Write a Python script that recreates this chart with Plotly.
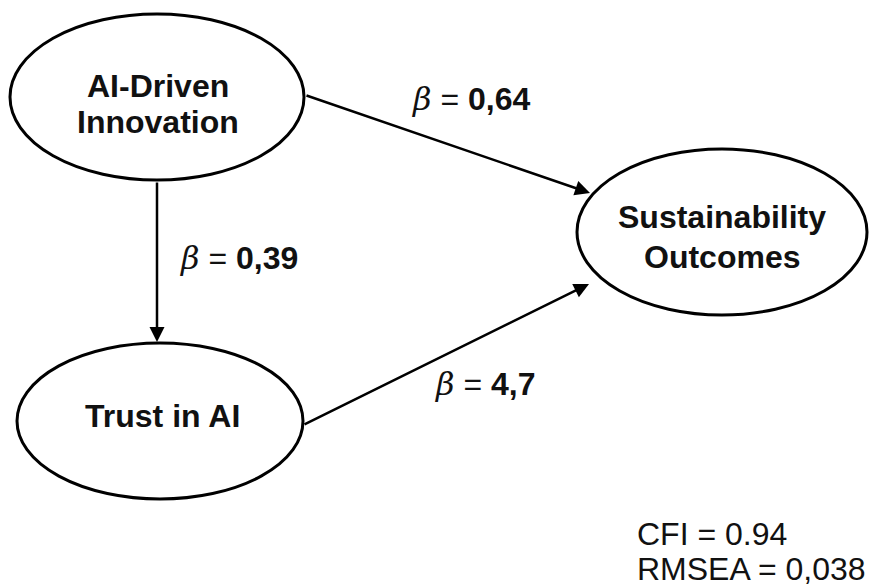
import plotly.graph_objects as go

# ---- data ----
node_labels = ["AI-Driven<br>Innovation", "Trust in AI", "Sustainability<br>Outcomes"]
edge_from = [0, 0, 1]
edge_to = [2, 1, 2]
beta_values = ["0,64", "0,39", "4,7"]
fit_names = ["CFI", "RMSEA"]
fit_values = ["0.94", "0,038"]

# ---- layout (screen-pixel coordinates, y downward) ----
node_center = [(157, 97), (160, 421), (722, 232)]
node_radius = [(147, 83), (143, 78), (145, 83)]
node_text_y = [(86, 122), (416,), (217, 257)]
node_text_x = [158, 162, 722]
edge_start = [(305, 95), (157, 181), (303, 425)]
edge_end = [(590, 193), (157, 342), (589, 284)]
label_pos = [(471, 99), (239, 258), (485, 384)]
fit_x = 635
fit_y = [534, 569]

FONT = "Liberation Sans, Arial, Helvetica, sans-serif"
OFF = 8  # page body margin

fig = go.Figure()
fig.add_trace(go.Scatter(x=[100, 800], y=[100, 500], mode="markers",
                         marker=dict(opacity=0), hoverinfo="skip", showlegend=False))

shapes = []
annotations = []
for i, lab in enumerate(node_labels):
    cx, cy = node_center[i]
    rx, ry = node_radius[i]
    shapes.append(dict(type="circle", xref="x", yref="y",
                       x0=cx - rx, x1=cx + rx, y0=cy - ry, y1=cy + ry,
                       line=dict(color="black", width=3), fillcolor="white", layer="below"))
    for line, ty in zip(lab.split("<br>"), node_text_y[i]):
        annotations.append(dict(x=node_text_x[i], y=ty, xref="x", yref="y",
                                text="<b>" + line + "</b>", showarrow=False,
                                yanchor="middle",
                                font=dict(family=FONT, size=32, color="#111")))

for k in range(len(edge_from)):
    sx, sy = edge_start[k]
    ex, ey = edge_end[k]
    annotations.append(dict(x=ex, y=ey, ax=sx, ay=sy, xref="x", yref="y",
                            axref="x", ayref="y", text="", showarrow=True,
                            arrowhead=2, arrowsize=1.2, arrowwidth=2.5, arrowcolor="black"))
    lx, ly = label_pos[k]
    txt = ('<span style="font-family:DejaVu Serif"><i>β</i></span> = <b>' + beta_values[k] + '</b>')
    annotations.append(dict(x=lx, y=ly, xref="x", yref="y", text=txt, showarrow=False,
                            yanchor="middle",
                            font=dict(family=FONT, size=32, color="#111")))

for n, v, fy in zip(fit_names, fit_values, fit_y):
    annotations.append(dict(x=fit_x, y=fy, xref="x", yref="y", text=f"{n} = {v}",
                            showarrow=False, xanchor="left", yanchor="middle",
                            font=dict(family=FONT, size=32, color="#111")))

fig.update_layout(
    width=878, height=587,
    margin=dict(l=0, r=0, t=0, b=0),
    paper_bgcolor="white", plot_bgcolor="white",
    xaxis=dict(range=[OFF, 878 + OFF], visible=False, fixedrange=True),
    yaxis=dict(range=[587 + OFF, OFF], visible=False, fixedrange=True),
    shapes=shapes, annotations=annotations, showlegend=False,
)
fig.write_html("out.html")
